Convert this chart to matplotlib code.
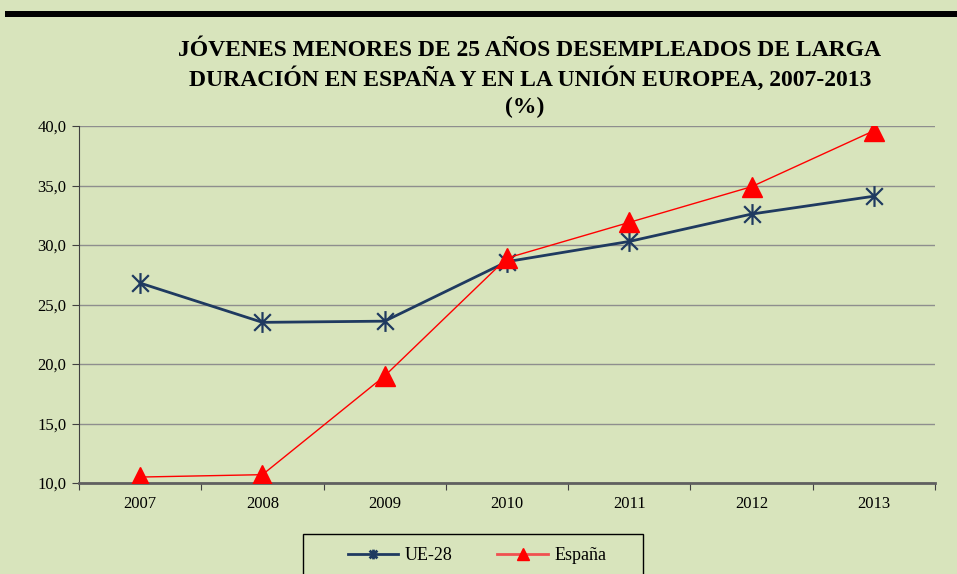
import matplotlib
matplotlib.use("Agg")
import matplotlib.pyplot as plt
from matplotlib.patches import Rectangle
from matplotlib.lines import Line2D
from matplotlib.path import Path

years = ["2007", "2008", "2009", "2010", "2011", "2012", "2013"]
ue28 = [26.8, 23.5, 23.6, 28.6, 30.3, 32.6, 34.1]
espana = [10.5, 10.7, 19.0, 28.9, 31.9, 34.9, 39.6]
title_lines = ["JÓVENES MENORES DE 25 AÑOS DESEMPLEADOS DE LARGA",
               "DURACIÓN EN ESPAÑA Y EN LA UNIÓN EUROPEA, 2007-2013",
               "(%)"]
yticks = [10, 15, 20, 25, 30, 35, 40]

BG = "#D8E4BC"
NAVY = "#1F3A60"
RED = "#FF0000"
SERIF = ["Liberation Serif", "DejaVu Serif"]

star = Path([(0, -1), (0, 1), (-0.8, -0.8), (0.8, 0.8), (-0.8, 0.8), (0.8, -0.8)],
            [Path.MOVETO, Path.LINETO, Path.MOVETO, Path.LINETO, Path.MOVETO, Path.LINETO])

W, H = 957, 574
fig = plt.figure(figsize=(W / 100, H / 100), dpi=100, facecolor=BG)

# top black bar
fig.add_artist(Rectangle((5 / W, 1 - 17 / H), 1, 6 / H, transform=fig.transFigure,
                         color="black", lw=0))

ax = fig.add_axes([79 / W, 1 - 483 / H, (935 - 79) / W, (483 - 126) / H])
ax.set_facecolor(BG)
x = list(range(len(years)))
ax.plot(x, ue28, color=NAVY, lw=2, marker=star, ms=15, mew=1.6, mec=NAVY, mfc="none",
        label="UE-28", zorder=3)
ax.plot(x, espana, color=RED, lw=1, marker="^", ms=14, mec=RED, mfc=RED,
        label="España", zorder=4)

ax.set_xlim(-0.5, len(years) - 0.5)
ax.set_ylim(10, 40)
ax.set_yticks(yticks)
ax.set_yticklabels([f"{v:.1f}".replace(".", ",") for v in yticks],
                   fontsize=12, family=SERIF)
ax.yaxis.grid(True, color="#8E8E8E", lw=1)
ax.set_axisbelow(True)
ax.set_xticks([i - 0.5 for i in range(len(years) + 1)])
ax.set_xticklabels([])
ax.set_xticks(x, minor=True)
ax.set_xticklabels(years, minor=True, fontsize=12, family=SERIF)
ax.tick_params(axis="x", which="minor", length=0, pad=9)
ax.tick_params(axis="x", which="major", length=5, direction="out", color="#404040")
ax.tick_params(axis="y", length=5, direction="out", color="#404040", pad=4)
for s in ["top", "right"]:
    ax.spines[s].set_visible(False)
ax.spines["left"].set_color("#404040")
ax.spines["bottom"].set_color("#606060")
ax.spines["bottom"].set_linewidth(2)

fig.text(530 / W, 1 - 51 / H, title_lines[0], ha="center", va="center",
         fontsize=17, fontweight="bold", family=SERIF)
fig.text(530 / W, 1 - 79 / H, title_lines[1], ha="center", va="center",
         fontsize=17, fontweight="bold", family=SERIF)
fig.text(525 / W, 1 - 107 / H, title_lines[2], ha="center", va="center",
         fontsize=17, fontweight="bold", family=SERIF)

# legend box
fig.add_artist(Rectangle((303 / W, -10 / H), (643 - 303) / W, (574 - 534 + 10) / H,
                         transform=fig.transFigure, fill=False, ec="black", lw=1))
handles = [Line2D([], [], color=NAVY, lw=2, marker=star, ms=7, mew=2, mfc="none"),
           Line2D([], [], color="#F05050", lw=2, marker="^", ms=8, mfc=RED, mec=RED)]
fig.legend(handles, ["UE-28", "España"], loc="center", bbox_to_anchor=(477 / W, 1 - 556 / H),
           ncol=2, frameon=False, prop={"family": SERIF, "size": 13},
           handlelength=2.8, columnspacing=2.5, handletextpad=0.35)

fig.savefig("out.png", dpi=100, facecolor=BG)
